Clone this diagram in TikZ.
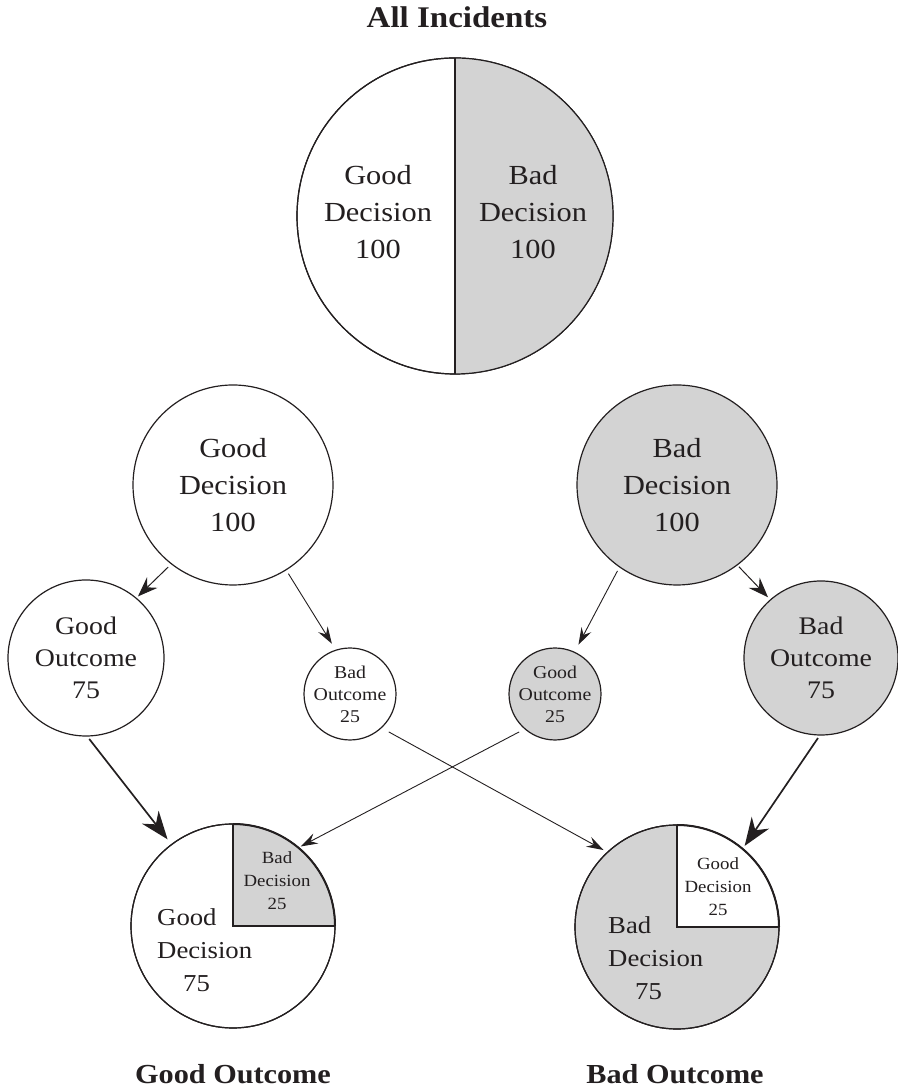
\documentclass[tikz,border=0pt]{standalone}
\usepackage{fontspec}
\setmainfont{Liberation Serif}[FakeStretch=1.1]
\usetikzlibrary{arrows.meta}
\definecolor{pie}{RGB}{211,211,211}
\definecolor{ink}{RGB}{35,31,32}
\begin{document}
\begin{tikzpicture}[x=1pt,y=1pt,
  circ/.style={circle, draw=ink, line width=1.2pt, inner sep=0pt, align=center, text=ink},
  bigtxt/.style={font=\fontsize{27.6}{37}\selectfont},
  midtxt/.style={font=\fontsize{25.3}{32}\selectfont},
  smalltxt/.style={font=\fontsize{18}{22}\selectfont},
  pietxt/.style={font=\fontsize{24.3}{33}\selectfont, align=left, inner sep=0pt, anchor=west, text=ink},
  wedgetxt/.style={font=\fontsize{17.1}{23}\selectfont, align=center, inner sep=0pt, text=ink},
  labeltxt/.style={font=\bfseries\fontsize{27.5}{33}\selectfont, anchor=base, text=ink},
  thinarr/.style={draw=ink, line width=0.9pt, -{Stealth[length=17pt,width=11pt,inset=6pt]}},
  midarr/.style={draw=ink, line width=1pt, -{Stealth[length=20pt,width=15pt,inset=7pt]}},
  thickarr/.style={draw=ink, line width=1.7pt, -{Stealth[length=28pt,width=21pt,inset=9pt]}}
]
\useasboundingbox (0,0) rectangle (897,1091);

% title
\node[font=\bfseries\fontsize{30}{36}\selectfont, anchor=base, text=ink] (title) at (457,1063) {All Incidents};

% top pie
\node[circ, fill=white, minimum size=316pt] (top) at (455,875) {};
\fill[pie] (top.center) -- (455,1033) arc[start angle=90, end angle=-90, radius=158pt] -- cycle;
\draw[ink, line width=1.2pt] (455,1033) -- (455,717);
\draw[ink, line width=1.2pt] (top.center) circle[radius=158pt];
\node[bigtxt, align=center, inner sep=0pt, text=ink] (tl) at (378,879) {Good\\Decision\\100};
\node[bigtxt, align=center, inner sep=0pt, text=ink] (tr) at (533,879) {Bad\\Decision\\100};

% middle circles
\node[circ, bigtxt, minimum size=200pt] (gd) at (233,606) {Good\\Decision\\100};
\node[circ, bigtxt, fill=pie, minimum size=200pt] (bd) at (677,606) {Bad\\Decision\\100};

% outcome circles
\node[circ, midtxt, minimum size=156pt] (go75) at (86,433) {Good\\Outcome\\75};
\node[circ, smalltxt, minimum size=86pt] (bo25) at (350,397) {Bad\\Outcome\\25};
\node[circ, smalltxt, fill=pie, minimum size=86pt] (go25) at (555,397) {Good\\Outcome\\25};
\node[circ, midtxt, fill=pie, minimum size=154pt] (bo75) at (821,433) {Bad\\Outcome\\75};

% bottom-left pie
\node[circ, fill=white, minimum size=204pt] (bl) at (233,165) {};
\fill[pie] (bl.center) -- (233,267) arc[start angle=90, end angle=0, radius=102pt] -- cycle;
\draw[ink, line width=1.2pt] (233,267) -- (bl.center) -- (335,165);
\draw[ink, line width=1.2pt] (bl.center) circle[radius=102pt];
\draw[ink, line width=2pt] (233,267) arc[start angle=90, end angle=0, radius=102pt];
\node[pietxt] (bltxt) at (157,141) {Good\\Decision\\\hspace*{26pt}75};
\node[wedgetxt] (blw) at (277,210) {Bad\\Decision\\25};

% bottom-right pie
\node[circ, fill=pie, minimum size=204pt] (br) at (677,164) {};
\fill[white] (br.center) -- (677,266) arc[start angle=90, end angle=0, radius=102pt] -- cycle;
\draw[ink, line width=1.2pt] (677,266) -- (br.center) -- (779,164);
\draw[ink, line width=1.2pt] (br.center) circle[radius=102pt];
\draw[ink, line width=2pt] (677,266) arc[start angle=90, end angle=0, radius=102pt];
\node[pietxt] (brtxt) at (608,133) {Bad\\Decision\\\hspace*{27pt}75};
\node[wedgetxt] (brw) at (718,204) {Good\\Decision\\25};

% bottom labels
\node[labeltxt] (lgo) at (233,8) {Good Outcome};
\node[labeltxt] (lbo) at (675,8) {Bad Outcome};

% arrows
\draw[midarr, shorten <=4pt, shorten >=2pt] (gd.-128) -- (go75.50);
\draw[thinarr, shorten <=4pt, shorten >=7pt] (gd.-58) -- (bo25.108);
\draw[thinarr, shorten <=4pt, shorten >=8pt] (bd.-125) -- (go25.65);
\draw[midarr, shorten <=2pt, shorten >=3pt] (bd.-53) -- (bo75.131);
\draw[thickarr, shorten <=3pt, shorten >=6pt] (go75.-89) -- (bl.127);
\draw[thinarr, shorten <=6pt, shorten >=2pt] (go25.-131) -- (bl.50);
\draw[thinarr, shorten <=8pt, shorten >=4pt] (bo25.-47) -- (br.133);
\draw[thickarr, shorten <=3pt, shorten >=3pt] (bo75.-91) -- (br.50);
\end{tikzpicture}
\end{document}
